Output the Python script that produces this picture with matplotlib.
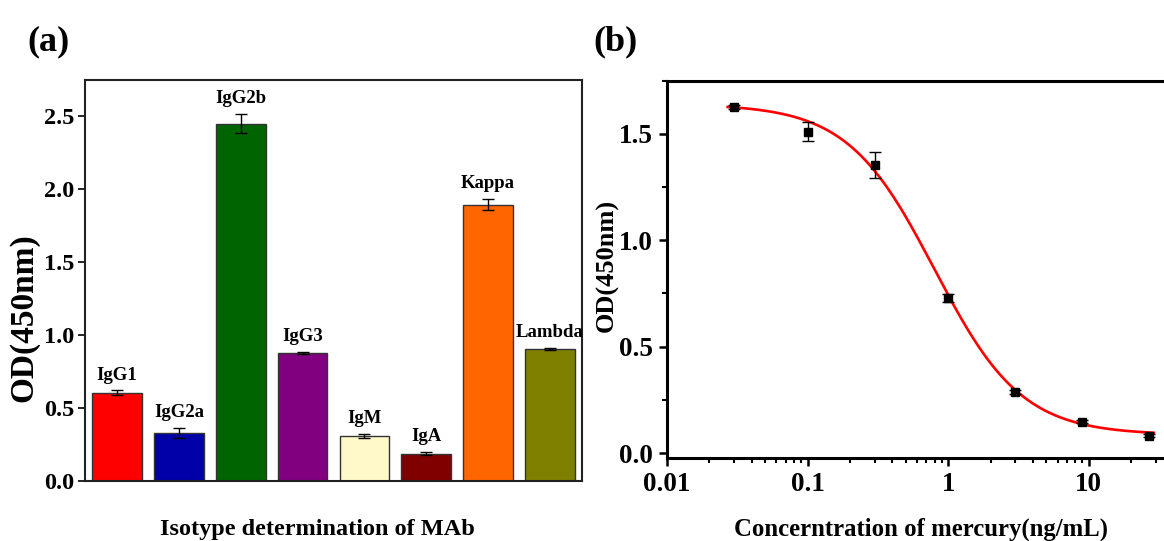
import matplotlib
matplotlib.use("Agg")
import matplotlib.pyplot as plt
import matplotlib.ticker as ticker
import numpy as np

plt.rcParams['font.family'] = ['Liberation Serif', 'DejaVu Serif']
plt.rcParams['font.weight'] = 'bold'

# (a) isotype data
isotypes = ['IgG1', 'IgG2a', 'IgG2b', 'IgG3', 'IgM', 'IgA', 'Kappa', 'Lambda']
od_iso = [0.606, 0.327, 2.45, 0.877, 0.309, 0.188, 1.896, 0.905]
err_iso = [0.015, 0.035, 0.065, 0.006, 0.012, 0.008, 0.04, 0.01]
bar_colors = ['#ff0000', '#0000a8', '#006400', '#800080', '#fff8c8',
              '#800000', '#ff6600', '#808000']

# (b) competitive curve
conc = [0.03, 0.1, 0.3, 1, 3, 9, 27]
od_hg = [1.628, 1.51, 1.354, 0.729, 0.288, 0.147, 0.081]
err_hg = [0.01, 0.045, 0.06, 0.02, 0.01, 0.008, 0.006]
# four-parameter logistic fit: top, bottom, IC50, slope
fit_top, fit_bottom, fit_ic50, fit_slope = 1.64, 0.085, 0.8, 1.4

fig = plt.figure(figsize=(11.64, 5.41), dpi=100)

# ---------- panel (a) ----------
ax1 = fig.add_axes([85 / 1164, 60 / 541, 497 / 1164, 401 / 541])
x = np.arange(len(isotypes))
ax1.bar(x, od_iso, width=0.8, color=bar_colors, edgecolor='#333333', linewidth=1.0)
ax1.errorbar(x, od_iso, yerr=err_iso, fmt='none', ecolor='black',
             elinewidth=1.0, capsize=4, capthick=1.0)
for xi, v, e, name in zip(x, od_iso, err_iso, isotypes):
    ax1.annotate(name, (xi, v + e), xytext=(0, 5), textcoords='offset points',
                 ha='center', va='bottom', fontsize=13.5, fontweight='bold')
ax1.set_xlim(-0.52, 7.52)
ax1.set_ylim(0, 2.75)
ax1.set_xticks([])
ax1.set_yticks([0.0, 0.5, 1.0, 1.5, 2.0, 2.5])
ax1.yaxis.set_major_formatter(ticker.FormatStrFormatter('%.1f'))
ax1.tick_params(axis='y', direction='out', length=5, width=1.2, labelsize=17.5, pad=3)
for lab in ax1.get_yticklabels():
    lab.set_fontweight('bold')
for sp in ax1.spines.values():
    sp.set_linewidth(1.5)
    sp.set_color('#222222')

# ---------- panel (b) ----------
ax2 = fig.add_axes([667 / 1164, 83 / 541, 498.3 / 1164, 377.3 / 541])
xs = np.logspace(np.log10(0.027), np.log10(29), 300)
ys = fit_bottom + (fit_top - fit_bottom) / (1 + (xs / fit_ic50) ** fit_slope)
ax2.plot(xs, ys, color='#ff0000', linewidth=1.9, zorder=2)
ax2.errorbar(conc, od_hg, yerr=err_hg, fmt='s', color='black', markersize=6,
             ecolor='black', elinewidth=1.0, capsize=4, capthick=1.0, zorder=3)
ax2.set_xscale('log')
ax2.set_xlim(0.01, 35)
ax2.set_ylim(-0.0235, 1.75)
ax2.set_xticks([0.01, 0.1, 1, 10])
ax2.xaxis.set_major_formatter(ticker.FuncFormatter(lambda v, _: f'{v:g}'))
ax2.xaxis.set_minor_locator(ticker.LogLocator(base=10, subs=np.arange(2, 10)))
ax2.xaxis.set_minor_formatter(ticker.NullFormatter())
ax2.set_yticks([0.0, 0.5, 1.0, 1.5])
ax2.yaxis.set_minor_locator(ticker.MultipleLocator(0.25))
ax2.yaxis.set_major_formatter(ticker.FormatStrFormatter('%.1f'))
ax2.tick_params(which='major', direction='out', length=6, width=1.8, labelsize=19.5, pad=4)
ax2.tick_params(which='minor', direction='out', length=3.5, width=1.5)
for lab in ax2.get_xticklabels() + ax2.get_yticklabels():
    lab.set_fontweight('bold')
for sp in ax2.spines.values():
    sp.set_linewidth(2.2)

# ---------- labels ----------
fig.text(24 / 1164, 1 - 318 / 541, 'OD(450nm)', rotation=90, ha='center', va='center',
         fontsize=24, fontweight='bold')
fig.text(607 / 1164, 1 - 265 / 541, 'OD(450nm)', rotation=90, ha='center', va='center',
         fontsize=19, fontweight='bold')
fig.text(317.5 / 1164, 1 - 535 / 541, 'Isotype determination of MAb', ha='center',
         va='baseline', fontsize=17.5, fontweight='bold')
fig.text(921.5 / 1164, 1 - 536 / 541, 'Concerntration of mercury(ng/mL)', ha='center',
         va='baseline', fontsize=17.8, fontweight='bold')
fig.text(27 / 1164, 1 - 50 / 541, '(a)', ha='left', va='baseline', fontsize=26, fontweight='bold')
fig.text(593 / 1164, 1 - 50 / 541, '(b)', ha='left', va='baseline', fontsize=26, fontweight='bold')

fig.savefig('out.png', dpi=100, facecolor='white')
